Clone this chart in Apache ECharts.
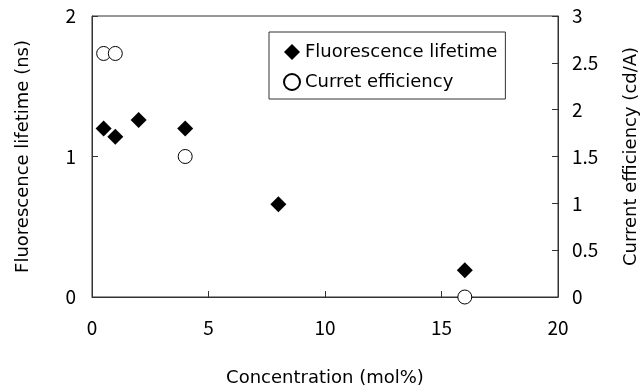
<!DOCTYPE html>
<html>
<head>
<meta charset="utf-8">
<script src="https://cdn.jsdelivr.net/npm/echarts@6/dist/echarts.min.js"></script>
<style>
  html, body { margin: 0; padding: 0; background: #fff; }
  #chart { width: 642px; height: 392px; }
</style>
</head>
<body>
<div id="chart"></div>
<script>
// 荧光寿命 / 电流效率 vs 浓度
const lifetimeX = [0.5, 1, 2, 4, 8, 16];
const lifetimeY = [1.2, 1.14, 1.26, 1.2, 0.66, 0.19];
const efficiencyX = [0.5, 1, 4, 16];
const efficiencyY = [2.6, 2.6, 1.5, 0];

const numFont = "'Noto Sans CJK JP', sans-serif";
const textFont = "'DejaVu Sans', sans-serif";
const axisColor = "#333";

function pairs(xs, ys) {
  return xs.map((x, i) => [x, ys[i]]);
}

const tickLabel = { fontFamily: numFont, fontSize: 19, color: "#000" };
const titleStyle = { fontFamily: textFont, fontSize: 18, color: "#000" };

const chart = echarts.init(document.getElementById("chart"));
chart.setOption({
  animation: false,
  grid: {
    left: 92,
    right: 84,
    top: 16,
    bottom: 95,
    outerBoundsMode: "none",
    containLabel: false,
    show: true,
    borderColor: axisColor,
    borderWidth: 1,
  },
  legend: {
    orient: "vertical",
    left: 269,
    top: 32,
    padding: [11, 8, 8, 14],
    itemGap: 12,
    itemWidth: 16,
    itemHeight: 16,
    borderColor: axisColor,
    borderWidth: 1,
    backgroundColor: "#fff",
    textStyle: titleStyle,
    data: ["Fluorescence lifetime", "Curret efficiency"],
  },
  xAxis: {
    type: "value",
    min: 0,
    max: 20,
    interval: 5,
    name: "Concentration (mol%)",
    nameLocation: "middle",
    nameGap: 72,
    nameTextStyle: titleStyle,
    axisLine: { show: true, lineStyle: { color: axisColor } },
    axisTick: { show: true, inside: true, length: 6, lineStyle: { color: axisColor } },
    axisLabel: Object.assign({ margin: 21 }, tickLabel),
    splitLine: { show: false },
  },
  yAxis: [
    {
      type: "value",
      min: 0,
      max: 2,
      interval: 1,
      name: "Fluorescence lifetime (ns)",
      nameLocation: "middle",
      nameGap: 60,
      nameTextStyle: titleStyle,
      axisLine: { show: true, lineStyle: { color: axisColor } },
      axisTick: { show: true, inside: true, length: 6, lineStyle: { color: axisColor } },
      axisLabel: Object.assign({ margin: 16 }, tickLabel),
      splitLine: { show: false },
    },
    {
      type: "value",
      min: 0,
      max: 3,
      interval: 0.5,
      position: "right",
      name: "Current efficiency (cd/A)",
      nameLocation: "middle",
      nameGap: 64,
      nameRotate: 90,
      nameTextStyle: titleStyle,
      axisLine: { show: true, lineStyle: { color: axisColor } },
      axisTick: { show: true, inside: true, length: 6, lineStyle: { color: axisColor } },
      axisLabel: Object.assign({ margin: 14 }, tickLabel),
      splitLine: { show: false },
    },
  ],
  series: [
    {
      name: "Fluorescence lifetime",
      type: "scatter",
      yAxisIndex: 0,
      symbol: "diamond",
      symbolSize: 16,
      itemStyle: { color: "#000", opacity: 1 },
      data: pairs(lifetimeX, lifetimeY),
      z: 3,
    },
    {
      name: "Curret efficiency",
      type: "scatter",
      yAxisIndex: 1,
      symbol: "circle",
      symbolSize: 14,
      itemStyle: { color: "#fff", borderColor: "#000", borderWidth: 1, opacity: 1 },
      data: pairs(efficiencyX, efficiencyY),
      z: 4,
    },
  ],
});
</script>
</body>
</html>
